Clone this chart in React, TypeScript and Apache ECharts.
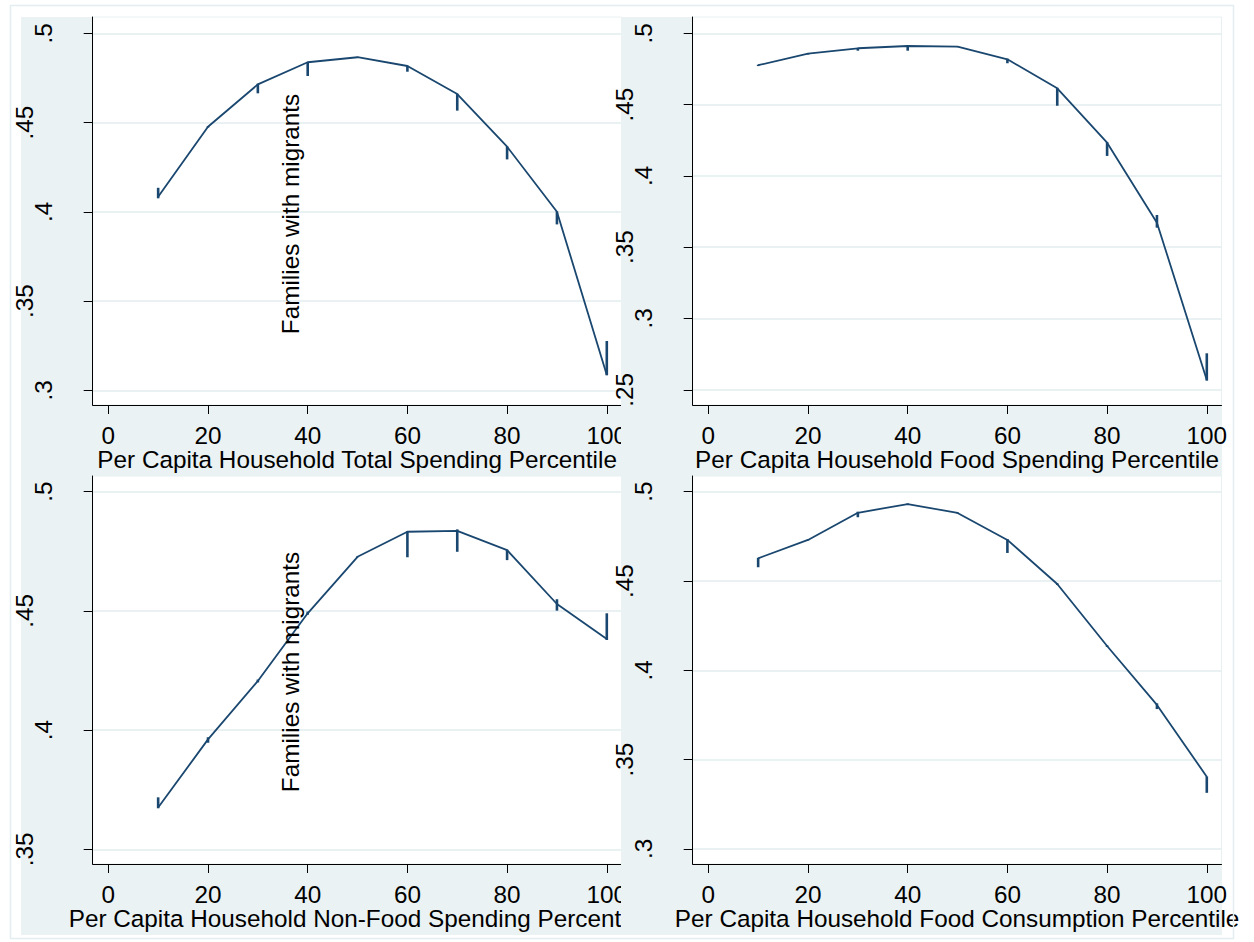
import React, { useEffect, useRef } from 'react';
import * as echarts from 'echarts';

// ---------- data ----------
const percentiles = [10, 20, 30, 40, 50, 60, 70, 80, 90, 100];
const xTickValues = [0, 20, 40, 60, 80, 100];
const xExtent = [-3.13, 102.95];

const titles = [
  'Per Capita Household Total Spending Percentile',
  'Per Capita Household Food Spending Percentile',
  'Per Capita Household Non-Food Spending Percentile',
  'Per Capita Household Food Consumption Percentile',
];

const totalMean = [0.4085, 0.4477, 0.4714, 0.4838, 0.4866, 0.4817, 0.466, 0.4365, 0.4001, 0.3087];
const totalLo = [0.4076, 0.4472, 0.4664, 0.4761, 0.4863, 0.4785, 0.4567, 0.4294, 0.393, 0.3085];
const totalHi = [0.4135, 0.448, 0.4718, 0.484, 0.4868, 0.4819, 0.4662, 0.4367, 0.4003, 0.3277];

const foodMean = [0.4776, 0.4857, 0.4895, 0.4911, 0.4906, 0.4818, 0.4614, 0.4233, 0.3672, 0.2569];
const foodLo = [0.477, 0.4851, 0.4878, 0.4878, 0.4903, 0.479, 0.4492, 0.414, 0.3637, 0.2564];
const foodHi = [0.478, 0.4861, 0.4897, 0.4918, 0.4908, 0.4822, 0.4618, 0.4237, 0.3726, 0.2756];

const nonFoodMean = [0.3675, 0.3961, 0.4206, 0.449, 0.4727, 0.4832, 0.4836, 0.4755, 0.4529, 0.4382];
const nonFoodLo = [0.3672, 0.3947, 0.42, 0.4484, 0.4725, 0.4725, 0.4748, 0.4713, 0.4501, 0.4378];
const nonFoodHi = [0.3718, 0.397, 0.4212, 0.4497, 0.4729, 0.4834, 0.4842, 0.4757, 0.4549, 0.449];

const consMean = [0.4627, 0.473, 0.4882, 0.4931, 0.4881, 0.473, 0.4483, 0.4136, 0.3806, 0.3404];
const consLo = [0.4577, 0.4727, 0.4857, 0.4928, 0.4878, 0.4657, 0.4478, 0.4131, 0.3783, 0.3314];
const consHi = [0.463, 0.4733, 0.4888, 0.4934, 0.4884, 0.4735, 0.4487, 0.414, 0.3815, 0.3406];

const yTicksTotal = [0.3, 0.35, 0.4, 0.45, 0.5];
const yTicksFood = [0.25, 0.3, 0.35, 0.4, 0.45, 0.5];
const yTicksNonFood = [0.35, 0.4, 0.45, 0.5];
const yTicksCons = [0.3, 0.35, 0.4, 0.45, 0.5];

const yExtentTotal = [0.29188, 0.50913];
const yExtentFood = [0.23934, 0.51143];
const yExtentNonFood = [0.34383, 0.50659];
const yExtentCons = [0.29155, 0.50879];

const noteText = 'Families with migrants';

// ---------- layout / style ----------
const FONT = '"Liberation Sans", Arial, Helvetica, sans-serif';
const FS = 24.3;
const NAVY = '#1a476f';
const REGION = '#eaf2f3';
const GRIDLINE = '#e3ecee';

const plotLeft = [92.7, 692.7, 92.7, 692.7];
const plotTop = [17, 17, 476, 476];
const plotWidth = 528.8;
const plotHeight = 388;
const regionLeft = [21, 621, 21, 621];
const regionWidth = [600, 601, 600, 601];
const regionHeight = 459;

export default function App() {
  const ref = useRef<HTMLDivElement>(null);

  useEffect(() => {
    if (!ref.current) return;
    const chart = echarts.init(ref.current, undefined, { renderer: 'svg' });

    const means = [totalMean, foodMean, nonFoodMean, consMean];
    const los = [totalLo, foodLo, nonFoodLo, consLo];
    const his = [totalHi, foodHi, nonFoodHi, consHi];
    const yTicks = [yTicksTotal, yTicksFood, yTicksNonFood, yTicksCons];
    const yExtents = [yExtentTotal, yExtentFood, yExtentNonFood, yExtentCons];

    const baseZ = (i: number) => (i % 2 === 0 ? 0 : 10);

    const fmtY = (v: number) => {
      const s = Number(v.toFixed(2)).toString().replace(/^0/, '');
      return s.length > 2 ? `{w|${s}}` : `{n|${s}}`;
    };

    const grids: any[] = [];
    const xAxes: any[] = [];
    const yAxes: any[] = [];
    const series: any[] = [];
    const graphics: any[] = [];

    for (let i = 0; i < 4; i++) {
      const z = baseZ(i);
      graphics.push({
        type: 'rect',
        z: z,
        shape: { x: regionLeft[i], y: plotTop[i], width: regionWidth[i], height: regionHeight },
        style: { fill: REGION },
        silent: true,
      });
      grids.push({
        left: plotLeft[i],
        top: plotTop[i],
        width: plotWidth,
        height: plotHeight,
        show: true,
        backgroundColor: '#ffffff',
        borderColor: '#e9f0f2',
        borderWidth: 1,
        z: z + 1,
      });
      xAxes.push({
        type: 'value',
        gridIndex: i,
        min: xExtent[0],
        max: xExtent[1],
        z: z + 2,
        name: titles[i],
        nameLocation: 'middle',
        nameGap: 40,
        nameTextStyle: { fontSize: FS, fontFamily: FONT, color: '#000' },
        axisLine: { show: true, onZero: false, lineStyle: { color: '#000', width: 1 } },
        axisTick: { show: true, length: 9, customValues: xTickValues, lineStyle: { color: '#000', width: 1 } },
        axisLabel: {
          customValues: xTickValues,
          margin: 18,
          fontSize: FS,
          fontFamily: FONT,
          color: '#000',
        },
        splitLine: { show: false },
      });
      yAxes.push({
        type: 'value',
        gridIndex: i,
        min: yExtents[i][0],
        max: yExtents[i][1],
        z: z + 2,
        axisLine: { show: true, onZero: false, lineStyle: { color: '#000', width: 1 } },
        axisTick: { show: true, length: 9, customValues: yTicks[i], lineStyle: { color: '#000', width: 1 } },
        axisLabel: {
          customValues: yTicks[i],
          rotate: 90,
          margin: 37,
          fontSize: FS,
          fontFamily: FONT,
          color: '#000',
          formatter: fmtY,
          rich: {
            n: { fontSize: FS, fontFamily: FONT, color: '#000' },
            w: { fontSize: FS, fontFamily: FONT, color: '#000', padding: [0, 0, 19, 0] },
          },
        },
        splitLine: { show: true, lineStyle: { color: GRIDLINE, width: 1.5 } },
      });
      series.push({
        type: 'line',
        xAxisIndex: i,
        yAxisIndex: i,
        z: z + 3,
        symbol: 'none',
        silent: true,
        lineStyle: { color: NAVY, width: 1.8 },
        data: percentiles.map((x, j) => [x, means[i][j]]),
      });
      series.push({
        type: 'custom',
        xAxisIndex: i,
        yAxisIndex: i,
        z: z + 4,
        silent: true,
        encode: { x: 0, y: [1, 2] },
        data: percentiles.map((x, j) => [x, los[i][j], his[i][j]]),
        renderItem: (_p: any, api: any) => {
          const a = api.coord([api.value(0), api.value(1)]);
          const b = api.coord([api.value(0), api.value(2)]);
          return {
            type: 'line',
            shape: { x1: a[0], y1: a[1], x2: b[0], y2: b[1] },
            style: { stroke: NAVY, lineWidth: 2.6 },
          };
        },
      });
    }

    // annotations
    graphics.push({
      type: 'text',
      z: 30,
      x: 290,
      y: 214,
      rotation: Math.PI / 2,
      silent: true,
      style: { text: noteText, fontSize: FS, fontFamily: FONT, fill: '#000', align: 'center', verticalAlign: 'middle' },
    });
    graphics.push({
      type: 'text',
      z: 30,
      x: 290,
      y: 672,
      rotation: Math.PI / 2,
      silent: true,
      style: { text: noteText, fontSize: FS, fontFamily: FONT, fill: '#000', align: 'center', verticalAlign: 'middle' },
    });
    // outer frame
    graphics.push({
      type: 'rect',
      z: 30,
      silent: true,
      shape: { x: 10.5, y: 5.5, width: 1223, height: 933 },
      style: { fill: 'none', stroke: '#e4eef0', lineWidth: 1.5 },
    });

    chart.setOption({
      animation: false,
      backgroundColor: '#ffffff',
      grid: grids,
      xAxis: xAxes,
      yAxis: yAxes,
      series,
      graphic: { elements: graphics },
    });

    return () => chart.dispose();
  }, []);

  return (
    <div
      ref={ref}
      style={{ position: 'fixed', left: 0, top: 0, width: 1254, height: 942, background: '#fff' }}
    />
  );
}
